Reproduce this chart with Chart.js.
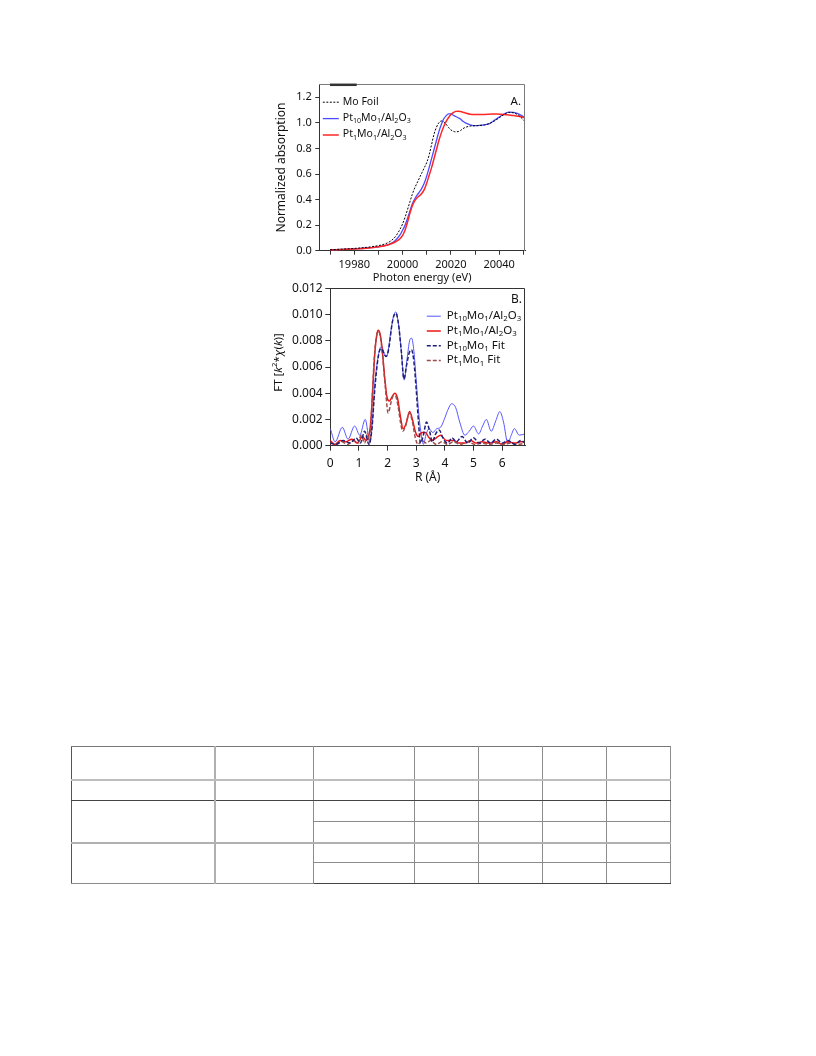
<!DOCTYPE html>
<html>
<head>
<meta charset="utf-8">
<script src="https://cdn.jsdelivr.net/npm/chart.js@4.4.0/dist/chart.umd.min.js"></script>
<style>
  body { margin: 0; background: #fff; }
  #page { position: relative; width: 816px; height: 1056px; }
  #cA { position: absolute; left: 260px; top: 70px; }
  #cB { position: absolute; left: 260px; top: 278px; }
  table.tbl { position: absolute; left: 71px; top: 746px; border-collapse: collapse; table-layout: fixed; width: 600px; }
  table.tbl td { border: 1px solid #8c8c8c; padding: 0; }
  table.tbl tr.hd td { border-top-color: #777; border-bottom: 2px solid #bdbdbd; }
  table.tbl tr.r1 td { border-bottom: 1px solid #444; }
  table.tbl tr.g2 td { border-top: 2px solid #b0b0b0; }
  table.tbl tr.last td { border-bottom: 1px solid #444; }
  table.tbl td.c1 { border-left: 1px solid #555; }
  table.tbl td.c2 { border-left: 2px solid #b0b0b0; }
  table.tbl td.c3 { border-left: 1px solid #555; }
</style>
</head>
<body>
<div id="page">
  <canvas id="cA" width="280" height="216"></canvas>
  <canvas id="cB" width="280" height="214"></canvas>
  <table class="tbl">
    <colgroup>
      <col style="width:143px"><col style="width:99px"><col style="width:101px">
      <col style="width:64px"><col style="width:64px"><col style="width:64px"><col style="width:64px">
    </colgroup>
    <tr class="hd" style="height:33px"><td class="c1"></td><td class="c2"></td><td class="c3"></td><td></td><td></td><td></td><td></td></tr>
    <tr class="r1" style="height:21px"><td class="c1"></td><td class="c2"></td><td class="c3"></td><td></td><td></td><td></td><td></td></tr>
    <tr style="height:21px"><td class="c1" rowspan="2"></td><td class="c2" rowspan="2"></td><td class="c3"></td><td></td><td></td><td></td><td></td></tr>
    <tr style="height:21px"><td class="c3"></td><td></td><td></td><td></td><td></td></tr>
    <tr class="g2" style="height:20px"><td class="c1" rowspan="2"></td><td class="c2" rowspan="2"></td><td class="c3"></td><td></td><td></td><td></td><td></td></tr>
    <tr class="last" style="height:21px"><td class="c3"></td><td></td><td></td><td></td><td></td></tr>
  </table>
</div>
<script>
// ---- panel A: XANES ----
const energy = [19970, 19975, 19980, 19985, 19990, 19993, 19995, 19997, 19999,
  20000, 20001, 20002, 20003, 20004, 20005, 20006, 20007, 20008, 20009, 20010,
  20011, 20012, 20013, 20014, 20015, 20016, 20017, 20018, 20019, 20020,
  20021, 20022, 20023, 20024, 20025, 20026,
  20028, 20030, 20032, 20034, 20036, 20038, 20040, 20042, 20044, 20046, 20048, 20050, 20051];
const moFoil = [0.008, 0.012, 0.018, 0.026, 0.04, 0.055, 0.075, 0.11, 0.17,
  0.21, 0.26, 0.32, 0.38, 0.44, 0.49, 0.53, 0.57, 0.61, 0.65, 0.69,
  0.75, 0.83, 0.91, 0.965, 1.0, 1.015, 1.01, 0.99, 0.965, 0.945,
  0.935, 0.93, 0.932, 0.94, 0.955, 0.965,
  0.975, 0.978, 0.98, 0.985, 0.995, 1.015, 1.04, 1.065, 1.082, 1.078, 1.06, 1.025, 1.005];
const pt10Xanes = [0.008, 0.011, 0.015, 0.021, 0.03, 0.042, 0.056, 0.08, 0.125,
  0.16, 0.2, 0.25, 0.31, 0.365, 0.405, 0.435, 0.46, 0.49, 0.53, 0.585,
  0.65, 0.72, 0.79, 0.86, 0.93, 0.985, 1.03, 1.055, 1.07, 1.07,
  1.06, 1.05, 1.04, 1.03, 1.012, 1.0,
  0.985, 0.978, 0.98, 0.985, 0.995, 1.02, 1.045, 1.07, 1.085, 1.083, 1.07, 1.05, 1.04];
const pt1Xanes = [0.006, 0.01, 0.014, 0.02, 0.03, 0.04, 0.052, 0.068, 0.095,
  0.12, 0.16, 0.22, 0.29, 0.35, 0.39, 0.415, 0.43, 0.45, 0.48, 0.53,
  0.59, 0.65, 0.72, 0.79, 0.86, 0.92, 0.97, 1.01, 1.04, 1.065,
  1.08, 1.09, 1.092, 1.089, 1.084, 1.078,
  1.068, 1.066, 1.066, 1.066, 1.068, 1.07, 1.068, 1.066, 1.062, 1.058, 1.052, 1.043, 1.04];
const energyTicks = [19970, 19980, 19990, 20000, 20010, 20020, 20030, 20040, 20050];
const energyLabels = [19980, 20000, 20020, 20040];
const absTicks = [0, 0.2, 0.4, 0.6, 0.8, 1.0, 1.2];

// ---- panel B: Fourier transforms ----
const pt10R = [0, 0.17, 0.42, 0.62, 0.85, 1.03, 1.22, 1.38, 1.47, 1.55, 1.65, 1.73, 1.79, 1.86, 1.93, 2.0,
  2.1, 2.2, 2.29, 2.38, 2.48, 2.58, 2.68, 2.77, 2.84, 2.92, 3.0, 3.1, 3.18, 3.25, 3.35, 3.45,
  3.58, 3.72, 3.85, 3.98, 4.1, 4.24, 4.38, 4.52, 4.7, 4.85, 5.0, 5.18, 5.32, 5.45, 5.62, 5.78,
  5.92, 6.05, 6.2, 6.32, 6.43, 6.6, 6.8];
const pt10FT = [0.0013, 0.0003, 0.0014, 0.0005, 0.0015, 0.0008, 0.002, 0.0003, 0.0018, 0.0046, 0.0065, 0.0074, 0.00755, 0.0072, 0.0068, 0.007,
  0.0085, 0.0098, 0.0102, 0.0093, 0.0072, 0.005, 0.0066, 0.008, 0.0082, 0.0072, 0.005, 0.0022, 0.0008, 0.0001, 0.0009, 0.0013,
  0.001, 0.0013, 0.0014, 0.002, 0.0027, 0.0032, 0.0029, 0.0018, 0.0008, 0.0011, 0.0015, 0.0009, 0.0015, 0.002, 0.0011, 0.0019,
  0.0026, 0.0018, 0.0002, 0.0008, 0.0013, 0.0008, 0.0009];
const pt1R = [0, 0.15, 0.35, 0.55, 0.75, 0.95, 1.12, 1.25, 1.35, 1.42, 1.49, 1.56, 1.62, 1.67, 1.73, 1.8,
  1.9, 1.98, 2.06, 2.15, 2.25, 2.35, 2.45, 2.54, 2.65, 2.77, 2.88, 2.98, 3.07, 3.2, 3.32, 3.45,
  3.55, 3.7, 3.85, 4.05, 4.3, 4.5, 4.7, 4.9, 5.1, 5.3, 5.55, 5.8, 6.0, 6.2, 6.45, 6.65, 6.8];
const pt1FT = [0.0004, 0.0001, 0.0004, 0.0003, 0.0005, 0.0002, 0.0007, 0.0004, 0.0008, 0.002, 0.0046, 0.0072, 0.0084, 0.0088, 0.0086, 0.0076,
  0.0052, 0.0037, 0.0034, 0.0037, 0.004, 0.0036, 0.0022, 0.0013, 0.0017, 0.0026, 0.0019, 0.001, 0.0007, 0.001, 0.001, 0.0006,
  0.0004, 0.0006, 0.0008, 0.0004, 0.0004, 0.0002, 0.0002, 0.0004, 0.0002, 0.0003, 0.0002, 0.0003, 0.0001, 0.0003, 0.0002, 0.0003, 0.0003];
const pt10FitR = [0, 0.2, 0.45, 0.7, 0.9, 1.05, 1.2, 1.35, 1.45, 1.55, 1.65, 1.73, 1.79, 1.86, 1.95, 2.05,
  2.15, 2.22, 2.29, 2.38, 2.48, 2.57, 2.67, 2.76, 2.84, 2.92, 3.0, 3.08, 3.15, 3.25, 3.36, 3.47,
  3.56, 3.68, 3.8, 3.95, 4.1, 4.25, 4.4, 4.6, 4.8, 5.0, 5.2, 5.4, 5.6, 5.8, 6.0, 6.2, 6.45, 6.65, 6.8];
const pt10FitFT = [0.0002, 0.0001, 0.0004, 0.0002, 0.0006, 0.0002, 0.0011, 0.0001, 0.0012, 0.0042, 0.0064, 0.0073, 0.0074, 0.0071, 0.0068, 0.0075,
  0.0092, 0.0099, 0.0101, 0.0093, 0.0072, 0.0051, 0.0062, 0.0071, 0.0073, 0.0064, 0.0043, 0.0018, 0.0002, 0.0008, 0.0018, 0.0011,
  0.0003, 0.0009, 0.0012, 0.0005, 0.0002, 0.0006, 0.0003, 0.0007, 0.0002, 0.0006, 0.0002, 0.0005, 0.0002, 0.0005, 0.0002, 0.0004, 0.0001, 0.0004, 0.0002];
const pt1FitR = [0, 0.2, 0.4, 0.6, 0.8, 0.95, 1.08, 1.2, 1.3, 1.38, 1.46, 1.54, 1.61, 1.67, 1.74, 1.82,
  1.92, 2.02, 2.12, 2.2, 2.27, 2.36, 2.45, 2.53, 2.63, 2.76, 2.87, 2.97, 3.06, 3.2, 3.35, 3.5,
  3.7, 3.9, 4.1, 4.3, 4.55, 4.8, 5.05, 5.3, 5.55, 5.8, 6.05, 6.3, 6.55, 6.8];
const pt1FitFT = [0.0002, 0.0001, 0.0003, 0.0001, 0.0004, 0.0002, 0.0008, 0.0002, 0.0009, 0.0002, 0.0035, 0.0068, 0.0083, 0.0087, 0.0084, 0.007,
  0.0045, 0.0025, 0.0033, 0.0038, 0.0038, 0.0031, 0.0018, 0.0011, 0.0015, 0.0025, 0.0018, 0.0006, 0.0001, 0.0004, 0.0002, 0.0004,
  0.0001, 0.0003, 0.0001, 0.0003, 0.0001, 0.0003, 0.0001, 0.0002, 0.0001, 0.0002, 0.0001, 0.0002, 0.0001, 0.0002];
const rTicks = [0, 1, 2, 3, 4, 5, 6];
const ftTicks = [0, 0.002, 0.004, 0.006, 0.008, 0.01, 0.012];

const FONT = '"Noto Sans", "DejaVu Sans", sans-serif';

function pts(xs, ys) {
  return xs.map((x, i) => ({ x: x, y: ys[i] }));
}

// digits in a label become subscripts (Pt10Mo1/Al2O3)
function labelParts(s) {
  return s.split(/(\d+)/).filter(t => t.length).map(t => ({ t: t, sub: /^\d+$/.test(t) }));
}

function setFont(ctx, p, size) {
  const s = (p.sub || p.sup) ? size * 0.68 : size;
  ctx.font = (p.it ? 'italic ' : '') + s + 'px ' + FONT;
}

function richWidth(ctx, parts, size) {
  let w = 0;
  parts.forEach(p => { setFont(ctx, p, size); w += ctx.measureText(p.t).width; });
  return w;
}

function drawRich(ctx, parts, x, y, size) {
  let cx = x;
  parts.forEach(p => {
    setFont(ctx, p, size);
    const dy = p.sub ? size * 0.3 : (p.sup ? -size * 0.38 : 0);
    ctx.fillText(p.t, cx, y + dy);
    cx += ctx.measureText(p.t).width;
  });
}

// frame, panel letter, legend and axis titles
const decor = {
  id: 'decor',
  afterDraw(chart, args, o) {
    const ctx = chart.ctx;
    const a = chart.chartArea;
    ctx.save();
    ctx.strokeStyle = o.frameColor;
    ctx.lineWidth = 1;
    ctx.beginPath();
    ctx.moveTo(Math.round(a.left), Math.round(a.top) + 0.5);
    ctx.lineTo(Math.round(a.right) - 0.5, Math.round(a.top) + 0.5);
    ctx.lineTo(Math.round(a.right) - 0.5, Math.round(a.bottom));
    ctx.stroke();
    if (o.topMark) {
      ctx.strokeStyle = '#333';
      ctx.lineWidth = 2.5;
      ctx.beginPath();
      ctx.moveTo(a.left + o.topMark[0], a.top + 0.5);
      ctx.lineTo(a.left + o.topMark[1], a.top + 0.5);
      ctx.stroke();
    }

    ctx.fillStyle = '#111';
    ctx.textBaseline = 'middle';

    // panel letter
    ctx.textAlign = 'right';
    ctx.font = o.panel.size + 'px ' + FONT;
    ctx.fillText(o.panel.text, a.right - o.panel.dx, a.top + o.panel.dy);

    // legend
    ctx.textAlign = 'left';
    const lg = o.legend;
    chart.data.datasets.forEach((ds, i) => {
      const y = a.top + lg.dy + i * lg.rowH;
      const x0 = a.left + lg.dx;
      ctx.save();
      ctx.strokeStyle = ds.borderColor;
      ctx.lineWidth = ds.borderWidth;
      ctx.setLineDash(ds.borderDash || []);
      ctx.beginPath();
      ctx.moveTo(x0, y + 0.5);
      ctx.lineTo(x0 + lg.len, y + 0.5);
      ctx.stroke();
      ctx.restore();
      ctx.fillStyle = '#111';
      drawRich(ctx, labelParts(ds.label), x0 + lg.len + lg.gap, y, lg.size);
    });

    // x title
    ctx.textAlign = 'center';
    ctx.font = o.xTitle.size + 'px ' + FONT;
    ctx.fillText(o.xTitle.text, (a.left + a.right) / 2, a.bottom + o.xTitle.dy);

    // y title (rotated)
    ctx.save();
    ctx.translate(a.left - o.yTitle.dx, (a.top + a.bottom) / 2 + o.yTitle.dy);
    ctx.rotate(-Math.PI / 2);
    ctx.textAlign = 'left';
    const w = richWidth(ctx, o.yTitle.parts, o.yTitle.size);
    drawRich(ctx, o.yTitle.parts, -w / 2, 0, o.yTitle.size);
    ctx.restore();

    ctx.restore();
  }
};

function axis(opts) {
  return {
    type: 'linear',
    min: opts.min,
    max: opts.max,
    afterBuildTicks: s => { s.ticks = opts.ticks.map(v => ({ value: v })); },
    afterFit: s => { if (opts.width) s.width = opts.width; if (opts.height) s.height = opts.height; },
    ticks: {
      autoSkip: false,
      maxRotation: 0,
      padding: opts.pad,
      color: '#111',
      font: { family: FONT, size: opts.fontSize },
      callback: opts.label
    },
    grid: { drawOnChartArea: false, drawTicks: true, tickLength: opts.tick, color: '#333', lineWidth: 1 },
    border: { display: true, color: '#333', width: 1 }
  };
}

const lineBase = { pointRadius: 0, fill: false, cubicInterpolationMode: 'monotone' };

new Chart(document.getElementById('cA'), {
  type: 'line',
  data: {
    datasets: [
      Object.assign({ label: 'Mo Foil', data: pts(energy, moFoil), borderColor: '#000', borderWidth: 1, borderDash: [2, 1.5], order: 0 }, lineBase),
      Object.assign({ label: 'Pt10Mo1/Al2O3', data: pts(energy, pt10Xanes), borderColor: '#4b4bff', borderWidth: 1.3, order: 2 }, lineBase),
      Object.assign({ label: 'Pt1Mo1/Al2O3', data: pts(energy, pt1Xanes), borderColor: '#ff2626', borderWidth: 1.5, order: 1 }, lineBase)
    ]
  },
  options: {
    responsive: false,
    animation: false,
    events: [],
    layout: { padding: { left: 0, top: 14.3, right: 15, bottom: 0 } },
    scales: {
      x: axis({ min: 19965.5, max: 20050.7, ticks: energyTicks, height: 35.3, pad: 4, tick: 4, fontSize: 11,
        label: v => energyLabels.includes(v) ? String(v) : '' }),
      y: axis({ min: 0, max: 1.302, ticks: absTicks, width: 59.3, pad: 3.5, tick: 4, fontSize: 11,
        label: v => v.toFixed(1) })
    },
    plugins: {
      legend: { display: false },
      tooltip: { enabled: false },
      decor: {
        frameColor: '#7a7a7a',
        topMark: [10.7, 37.4],
        panel: { text: 'A.', size: 11.5, dx: 4, dy: 17.4 },
        legend: { dx: 3.5, dy: 17.4, rowH: 16.4, len: 16, gap: 4, size: 10.5 },
        xTitle: { text: 'Photon energy (eV)', size: 11, dy: 27.1 },
        yTitle: { parts: [{ t: 'Normalized absorption' }], size: 12, dx: 37.6, dy: 0 }
      }
    }
  },
  plugins: [decor]
});

new Chart(document.getElementById('cB'), {
  type: 'line',
  data: {
    datasets: [
      Object.assign({ label: 'Pt10Mo1/Al2O3', data: pts(pt10R, pt10FT), borderColor: '#5656ff', borderWidth: 1, order: 3 }, lineBase),
      Object.assign({ label: 'Pt1Mo1/Al2O3', data: pts(pt1R, pt1FT), borderColor: '#ee1414', borderWidth: 1.5, order: 2 }, lineBase),
      Object.assign({ label: 'Pt10Mo1 Fit', data: pts(pt10FitR, pt10FitFT), borderColor: '#1f1f78', borderWidth: 1.5, borderDash: [4, 2], order: 0 }, lineBase),
      Object.assign({ label: 'Pt1Mo1 Fit', data: pts(pt1FitR, pt1FitFT), borderColor: '#9c4d4d', borderWidth: 1.5, borderDash: [4, 2], order: 1 }, lineBase)
    ]
  },
  options: {
    responsive: false,
    animation: false,
    events: [],
    layout: { padding: { left: 0, top: 10.3, right: 15, bottom: 0 } },
    scales: {
      x: axis({ min: 0, max: 6.8, ticks: rTicks, height: 46.3, pad: 5.2, tick: 5, fontSize: 12,
        label: v => String(v) }),
      y: axis({ min: 0, max: 0.012, ticks: ftTicks, width: 70.3, pad: 2.6, tick: 5, fontSize: 12,
        label: v => v.toFixed(3) })
    },
    plugins: {
      legend: { display: false },
      tooltip: { enabled: false },
      decor: {
        frameColor: '#333',
        panel: { text: 'B.', size: 12, dx: 3, dy: 11 },
        legend: { dx: 96.5, dy: 27.4, rowH: 14.8, len: 14, gap: 6, size: 11.5 },
        xTitle: { text: 'R (Å)', size: 12, dy: 32.3 },
        yTitle: {
          parts: [{ t: 'FT [' }, { t: 'k', it: true }, { t: '2', sup: true }, { t: '*' }, { t: 'χ', it: true },
                  { t: '(' }, { t: 'k', it: true }, { t: ')]' }],
          size: 11.5, dx: 51.5, dy: -4.5
        }
      }
    }
  },
  plugins: [decor]
});
</script>
</body>
</html>
